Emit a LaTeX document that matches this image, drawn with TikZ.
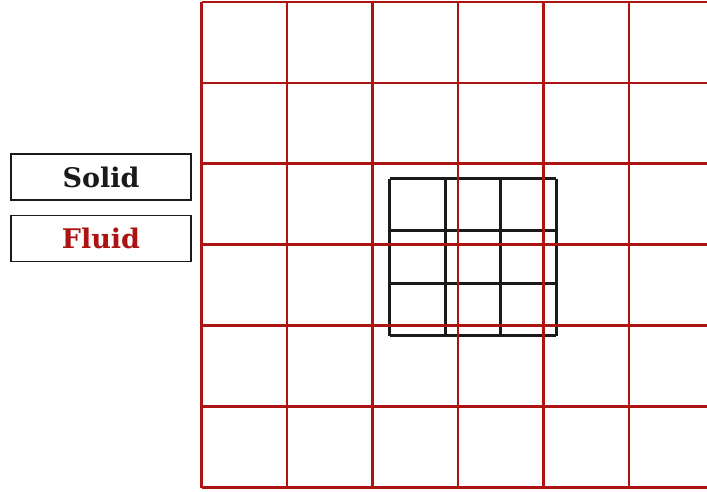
\documentclass[tikz,border=0pt]{standalone}
\usepackage{fontspec}
\setmainfont{DejaVu Serif}
\usetikzlibrary{positioning}
\definecolor{ink}{HTML}{1A1A1A}
\definecolor{fluidred}{HTML}{AC1414}
\tikzset{
  legbox/.style={draw=ink,line width=1.5pt,minimum width=180pt,minimum height=46pt,inner sep=0pt,font=\fontsize{27}{30}\selectfont\bfseries},
  fgrid/.style={draw=fluidred,line width=2.8pt},
  sgrid/.style={draw=ink,line width=2.8pt},
}
\begin{document}
\begin{tikzpicture}[x=1pt,y=-1pt]
\useasboundingbox (0,0) rectangle (707,491);
% solid mesh
\foreach \i in {0,...,3} {
  \draw[sgrid] ({389.5+55.6*\i},178.5) -- ({389.5+55.6*\i},335.5);
  \draw[sgrid] (389.5,{178.5+52.3*\i}) -- (556.3,{178.5+52.3*\i});
}
% fluid mesh
\foreach \i in {0,...,5}
  \draw[fgrid] ({201.5+85.5*\i},2) -- ({201.5+85.5*\i},487.5);
\foreach \j in {0,...,6}
  \draw[fgrid] (201.5,{2+80.9*\j}) -- (707,{2+80.9*\j});
% legend
\node[legbox,text=ink] (solid) at (101,177) {Solid};
\node[legbox,text=fluidred,below=14pt of solid] (fluid) {Fluid};
\end{tikzpicture}
\end{document}
